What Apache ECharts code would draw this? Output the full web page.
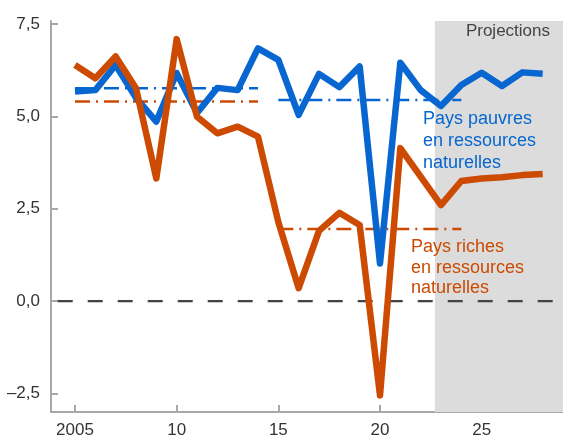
<!DOCTYPE html>
<html><head><meta charset="utf-8">
<script src="https://cdn.jsdelivr.net/npm/echarts@6/dist/echarts.min.js"></script>
<style>html,body{margin:0;padding:0;background:#fff}#c{width:563px;height:440px}</style>
</head><body><div id="c"></div>
<script>
// ---- data ----
const years = [2005,2006,2007,2008,2009,2010,2011,2012,2013,2014,2015,2016,2017,2018,2019,2020,2021,2022,2023,2024,2025,2026,2027,2028];
const poorCountries = [5.67,5.71,6.39,5.50,4.86,6.17,5.09,5.77,5.71,6.84,6.53,5.04,6.15,5.79,6.35,1.02,6.45,5.71,5.28,5.85,6.18,5.82,6.19,6.15];
const richCountries = [6.39,6.03,6.62,5.76,3.32,7.09,4.99,4.54,4.72,4.45,2.14,0.35,1.90,2.39,2.06,-2.55,4.14,3.37,2.60,3.25,3.32,3.35,3.41,3.44];
// period averages: [startYear, endYear, value]
const poorAverages = [[2005,2014,5.76],[2015,2024,5.44]];
const richAverages = [[2005,2014,5.40],[2015,2024,1.95]];
const yTickValues = [-2.5,0,2.5,5,7.5];
const xTickValues = [2005,2010,2015,2020,2025];
const xTickLabels = ['2005','10','15','20','25'];
const projectionStart = 2022.7;
const zeroLineSpan = [2004.15, 2028.5];
const poorLabel = 'Pays pauvres\nen ressources\nnaturelles';
const richLabel = 'Pays riches\nen ressources\nnaturelles';
const projectionsLabel = 'Projections';

// ---- styles ----
const BLUE = '#0766cf';
const ORANGE = '#cc4a02';
const FONT = '"Liberation Sans", Arial, sans-serif';
const X_MIN = 2003.82, X_MAX = 2029, Y_MIN = -3, Y_MAX = 7.58;

const chart = echarts.init(document.getElementById('c'), null, {renderer: 'canvas'});

function avgSeries(list, color) {
  return list.map(p => ({
    type: 'line', silent: true, symbol: 'none', z: 3,
    data: [[p[0], p[2]], [p[1], p[2]]],
    lineStyle: {color: color, width: 2.5, type: [15, 6, 2, 6], cap: 'butt'}
  }));
}

const series = [
  {
    type: 'line', silent: true, symbol: 'none', z: 2,
    data: [[zeroLineSpan[0], 0], [zeroLineSpan[1], 0]],
    lineStyle: {color: '#444', width: 2.3, type: [15, 15]},
    markArea: {
      silent: true,
      itemStyle: {color: '#dcdcdc'},
      data: [[{xAxis: projectionStart}, {xAxis: X_MAX}]]
    }
  },
  ...avgSeries(poorAverages, BLUE),
  ...avgSeries(richAverages, ORANGE),
  {
    type: 'line', silent: true, symbol: 'none', z: 5,
    data: years.map((y, i) => [y, poorCountries[i]]),
    lineStyle: {color: BLUE, width: 6.5, join: 'round'}
  },
  {
    type: 'line', silent: true, symbol: 'none', z: 6,
    data: years.map((y, i) => [y, richCountries[i]]),
    lineStyle: {color: ORANGE, width: 6.5, join: 'round'}
  }
];

chart.setOption({
  animation: false,
  backgroundColor: '#fff',
  grid: {left: 51, right: 0, top: 21, bottom: 28, containLabel: false},
  xAxis: {
    type: 'value', min: X_MIN, max: X_MAX,
    axisLine: {show: true, onZero: false, lineStyle: {color: '#a8a8a8', width: 2}},
    axisTick: {show: true, inside: true, length: 7, customValues: xTickValues, lineStyle: {color: '#a8a8a8', width: 2}},
    axisLabel: {
      customValues: xTickValues, margin: 10,
      color: '#333', fontSize: 17, fontFamily: FONT,
      formatter: v => xTickLabels[xTickValues.indexOf(Math.round(v))] || ''
    },
    splitLine: {show: false}
  },
  yAxis: {
    type: 'value', min: Y_MIN, max: Y_MAX,
    axisLine: {show: true, onZero: false, lineStyle: {color: '#a8a8a8', width: 2}},
    axisTick: {show: true, inside: true, length: 7, customValues: yTickValues, lineStyle: {color: '#a8a8a8', width: 2}},
    axisLabel: {
      customValues: yTickValues, margin: 11,
      color: '#333', fontSize: 17, fontFamily: FONT,
      formatter: v => v.toFixed(1).replace('.', ',').replace('-', '\u2013')
    },
    splitLine: {show: false}
  },
  graphic: [
    {type: 'text', right: 13, top: 23, z: 10,
     style: {text: projectionsLabel, fill: '#444', font: '17px ' + FONT}},
    {type: 'text', left: 423, top: 108, z: 10,
     style: {text: poorLabel, fill: BLUE, font: '18px ' + FONT, lineHeight: 22}},
    {type: 'text', left: 411, top: 237, z: 10,
     style: {text: richLabel, fill: ORANGE, font: '18px ' + FONT, lineHeight: 20.5}}
  ],
  series: series
});
</script>
</body></html>
